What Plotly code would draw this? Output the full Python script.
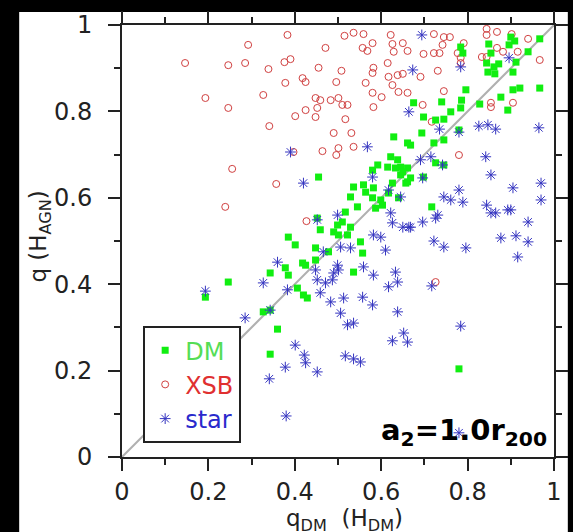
import plotly.graph_objects as go

# ---- data ----
dm_x = [0.784,0.789,0.849,0.854,0.844,0.861,0.872,0.847,0.863,0.900,0.909,0.896,0.912,0.905,0.940,0.967,0.967,
        0.796,0.740,0.786,0.784,0.761,0.828,0.877,0.905,0.921,0.893,0.675,0.698,0.726,0.745,0.694,0.668,0.722,
        0.745,0.780,0.726,0.745,0.629,0.661,0.622,0.638,0.645,0.661,0.645,0.661,0.698,0.592,0.580,0.559,0.582,
        0.455,0.536,0.529,0.564,0.580,0.599,0.587,0.617,0.626,0.640,0.615,0.633,0.650,0.657,0.517,0.510,0.490,
        0.501,0.522,0.499,0.459,0.452,0.385,0.401,0.448,0.478,0.552,0.557,0.448,0.425,0.378,0.385,0.343,0.536,
        0.406,0.420,0.429,0.343,0.193,0.246,0.327,0.360,0.343,0.780,0.717,0.668,0.545,0.603,0.529,0.418]
dm_y = [0.949,0.935,0.956,0.935,0.912,0.903,0.910,0.891,0.887,0.972,0.963,0.954,0.914,0.891,0.938,0.968,0.854,
        0.850,0.822,0.826,0.808,0.799,0.817,0.833,0.850,0.854,0.803,0.820,0.787,0.780,0.782,0.750,0.722,0.727,
        0.734,0.757,0.681,0.676,0.741,0.727,0.695,0.688,0.671,0.669,0.653,0.637,0.648,0.676,0.664,0.630,0.623,
        0.648,0.625,0.602,0.613,0.600,0.595,0.576,0.611,0.634,0.600,0.671,0.669,0.660,0.634,0.567,0.544,0.521,
        0.514,0.514,0.537,0.526,0.553,0.509,0.491,0.484,0.475,0.498,0.472,0.456,0.444,0.438,0.421,0.426,0.428,
        0.391,0.375,0.368,0.340,0.370,0.405,0.336,0.296,0.238,0.204,0.579,0.646,0.579,0.583,0.532,0.449]

xsb_x = [0.146,0.246,0.285,0.292,0.339,0.327,0.193,0.246,0.341,0.255,0.239,0.378,0.390,0.376,0.383,0.401,0.397,
         0.357,0.515,0.536,0.559,0.622,0.471,0.557,0.568,0.580,0.626,0.650,0.629,0.661,0.455,0.508,0.582,0.580,
         0.615,0.617,0.638,0.650,0.418,0.425,0.496,0.564,0.626,0.640,0.661,0.448,0.459,0.483,0.501,0.510,0.522,
         0.580,0.601,0.452,0.425,0.448,0.517,0.582,0.490,0.531,0.501,0.536,0.464,0.496,0.427,0.722,0.745,0.759,
         0.844,0.844,0.868,0.902,0.940,0.742,0.698,0.722,0.735,0.777,0.791,0.784,0.784,0.833,0.844,0.868,0.882,
         0.916,0.967,0.731,0.691,0.745,0.854,0.854,0.905,0.696,0.717,0.780,0.726]
xsb_y = [0.912,0.907,0.912,0.954,0.898,0.838,0.831,0.808,0.766,0.667,0.579,0.866,0.921,0.914,0.977,0.789,0.706,
         0.632,0.975,0.982,0.979,0.977,0.947,0.947,0.940,0.958,0.956,0.958,0.938,0.940,0.901,0.894,0.901,0.889,
         0.912,0.880,0.884,0.887,0.877,0.868,0.868,0.866,0.861,0.845,0.843,0.831,0.826,0.826,0.831,0.815,0.815,
         0.843,0.833,0.808,0.803,0.787,0.782,0.810,0.750,0.750,0.715,0.718,0.708,0.699,0.546,0.979,0.972,0.972,
         0.991,0.977,0.984,0.979,0.968,0.954,0.933,0.935,0.935,0.935,0.958,0.924,0.912,0.926,0.926,0.947,0.938,
         0.938,0.919,0.894,0.880,0.847,0.820,0.810,0.820,0.815,0.776,0.699,0.405]

star_x = [0.694,0.673,0.784,0.896,0.390,0.568,0.664,0.826,0.847,0.865,0.965,0.735,0.780,0.715,0.691,0.842,0.742,
          0.854,0.905,0.970,0.970,0.780,0.745,0.761,0.789,0.844,0.854,0.865,0.893,0.900,0.940,0.696,0.731,0.726,
          0.696,0.668,0.877,0.912,0.940,0.916,0.722,0.745,0.796,0.717,0.420,0.499,0.452,0.580,0.617,0.645,0.622,
          0.626,0.650,0.664,0.582,0.599,0.610,0.559,0.582,0.633,0.638,0.617,0.557,0.580,0.638,0.506,0.529,0.466,
          0.499,0.501,0.490,0.448,0.452,0.471,0.487,0.360,0.383,0.459,0.483,0.513,0.506,0.522,0.536,0.626,0.652,
          0.661,0.401,0.422,0.425,0.378,0.452,0.341,0.380,0.517,0.536,0.552,0.784,0.780,0.193,0.285,0.343,0.327]
star_y = [0.977,0.896,0.903,0.924,0.706,0.718,0.799,0.766,0.769,0.759,0.762,0.759,0.752,0.695,0.688,0.695,0.676,
          0.653,0.623,0.634,0.595,0.618,0.602,0.595,0.590,0.583,0.565,0.565,0.572,0.572,0.544,0.646,0.560,0.553,
          0.544,0.532,0.507,0.512,0.498,0.463,0.500,0.486,0.484,0.396,0.634,0.560,0.549,0.648,0.618,0.602,0.565,
          0.542,0.532,0.532,0.514,0.509,0.479,0.440,0.421,0.428,0.405,0.394,0.370,0.352,0.336,0.486,0.484,0.475,
          0.444,0.433,0.426,0.433,0.410,0.403,0.410,0.451,0.387,0.380,0.359,0.368,0.333,0.306,0.310,0.269,0.287,
          0.266,0.259,0.236,0.218,0.208,0.197,0.181,0.095,0.234,0.227,0.220,0.303,0.056,0.384,0.322,0.340,0.403]

diag = [0, 1]
ticks = [0, 0.2, 0.4, 0.6, 0.8, 1]          # labelled as 0, 0.2, 0.4, 0.6, 0.8, 1
minor_ticks = [0.1, 0.3, 0.5, 0.7, 0.9]

FONT = "DejaVu Sans"

fig = go.Figure()
fig.add_trace(go.Scatter(x=diag, y=diag, mode="lines", line=dict(color="#b0b0b0", width=2),
                         showlegend=False, hoverinfo="skip"))
fig.add_trace(go.Scatter(x=xsb_x, y=xsb_y, mode="markers", name='<span style="color:#e03030">XSB</span>',
                         legendrank=2,
                         marker=dict(symbol="circle-open", size=7, color="#d04040", line=dict(width=1))))
fig.add_trace(go.Scatter(x=dm_x, y=dm_y, mode="markers", name='<span style="color:#55dd55">DM</span>',
                         legendrank=1,
                         marker=dict(symbol="square", size=7, color="#11ee11")))
fig.add_trace(go.Scatter(x=star_x, y=star_y, mode="markers", name='<span style="color:#2a2acc">star</span>',
                         legendrank=3,
                         marker=dict(symbol="asterisk-open", size=9, color="#3434c0", line=dict(width=1))))
# invisible traces so the extra tick axes (top / right / left minor) get drawn
fig.add_trace(go.Scatter(x=diag, y=diag, xaxis="x2", yaxis="y2", mode="lines", opacity=0,
                         line=dict(width=0), showlegend=False, hoverinfo="skip"))
fig.add_trace(go.Scatter(x=diag, y=diag, xaxis="x", yaxis="y3", mode="lines", opacity=0,
                         line=dict(width=0), showlegend=False, hoverinfo="skip"))

base = dict(range=[0, 1], showgrid=False, zeroline=False, showline=True, linecolor="#222", linewidth=2,
            ticks="outside", ticklen=12, tickwidth=2, tickcolor="#222")
minor_style = dict(ticks="outside", ticklen=6, tickwidth=2, tickcolor="#222")
fig.update_layout(
    xaxis=dict(**base, tickvals=ticks,
               tickfont=dict(family=FONT, size=24, color="#222"),
               minor=dict(tickvals=minor_ticks, **minor_style)),
    yaxis=dict(**base, tickvals=ticks, ticklabelstandoff=11,
               tickfont=dict(family=FONT, size=24, color="#222")),
    yaxis3=dict(**base, dtick=0.2, overlaying="y", side="left", showticklabels=False,
                minor=dict(dtick=0.1, **minor_style)),
    xaxis2=dict(**base, dtick=0.2, overlaying="x", side="top", showticklabels=False,
                minor=dict(dtick=0.1, **minor_style)),
    yaxis2=dict(**base, dtick=0.2, overlaying="y", side="right", showticklabels=False,
                minor=dict(dtick=0.1, **minor_style)),
)

fig.update_layout(
    width=573, height=532,
    margin=dict(l=122, r=19, t=25, b=75, autoexpand=False),
    paper_bgcolor="black", plot_bgcolor="white",
    showlegend=True,
    legend=dict(x=0.049, y=0.303, xanchor="left", yanchor="top",
                bgcolor="white", bordercolor="#222", borderwidth=2,
                font=dict(family=FONT, size=24), tracegroupgap=0,
                itemwidth=30),
    shapes=[dict(type="rect", xref="paper", yref="paper", x0=-0.238, x1=1.032, y0=-0.174, y1=1.030,
                 fillcolor="white", line=dict(width=0), layer="below")],
    annotations=[
        dict(text="a<sub>2</sub>=1.0r<sub>200</sub>", xref="paper", yref="paper", x=0.988, y=0.01,
             xanchor="right", yanchor="bottom", showarrow=False,
             font=dict(family=FONT, size=29, color="black", weight="bold")),
        dict(text="q<sub>DM</sub>  (H<sub>DM</sub>)", xref="paper", yref="paper", x=0.516, y=-0.106,
             xanchor="center", yanchor="top", showarrow=False,
             font=dict(family=FONT, size=23, color="#222")),
        dict(text="q (H<sub>AGN</sub>)", xref="paper", yref="paper", x=-0.19, y=0.51,
             xanchor="center", yanchor="middle", textangle=-90, showarrow=False,
             font=dict(family=FONT, size=23, color="#222")),
    ],
)
fig.write_html("out.html")
